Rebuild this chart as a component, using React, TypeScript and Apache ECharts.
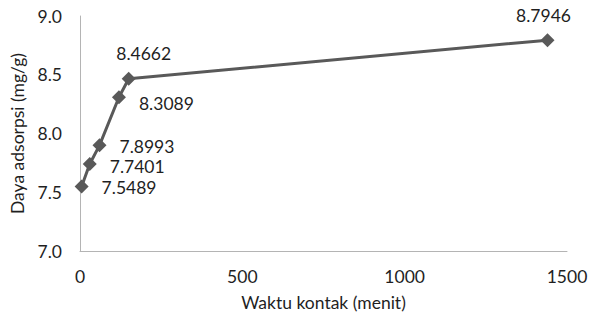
import React, { useEffect, useRef } from "react";
import * as echarts from "echarts";

const timeMinutes = [5, 30, 60, 120, 150, 1440];
const adsorption = [7.5489, 7.7401, 7.8993, 8.3089, 8.4662, 8.7946];
const xTicks = { min: 0, max: 1500, interval: 500 };
const yTicks = { min: 7, max: 9, interval: 0.5 };
const xName = "Waktu kontak (menit)";
const yName = "Daya adsorpsi (mg/g)";

// label placement per point (style only)
const labelPlacement: { position: string; offset: number[] }[] = [
  { position: "right", offset: [8, 1] },
  { position: "right", offset: [8, 2] },
  { position: "right", offset: [8, 1] },
  { position: "right", offset: [8, 6] },
  { position: "top", offset: [15, -4] },
  { position: "top", offset: [-4, -4] },
];

const FONT = "Lato";
const FS = 17.5;
const TEXT = "#1f1f1f";

export default function App() {
  const ref = useRef<HTMLDivElement>(null);
  useEffect(() => {
    if (!ref.current) return;
    const chart = echarts.init(ref.current, undefined, { renderer: "svg" });
    const data = timeMinutes.map((t, i) => ({
      value: [t, adsorption[i]],
      label: {
        position: labelPlacement[i].position as any,
        offset: labelPlacement[i].offset,
      },
    }));
    chart.setOption({
      animation: false,
      backgroundColor: "#ffffff",
      textStyle: { fontFamily: FONT },
      grid: { left: 80, right: 28, top: 16, bottom: 63, containLabel: false },
      xAxis: {
        type: "value",
        min: xTicks.min,
        max: xTicks.max,
        interval: xTicks.interval,
        name: xName,
        nameLocation: "middle",
        nameGap: 42,
        nameTextStyle: { fontFamily: FONT, fontSize: FS, color: TEXT },
        axisLine: { show: true, lineStyle: { color: "#b4b4b4", width: 1 } },
        axisTick: { show: false },
        splitLine: { show: false },
        axisLabel: {
          fontFamily: FONT,
          fontSize: FS,
          color: TEXT,
          margin: 16,
          formatter: (v: number) => String(v),
        },
      },
      yAxis: {
        type: "value",
        min: yTicks.min,
        max: yTicks.max,
        interval: yTicks.interval,
        name: yName,
        nameLocation: "middle",
        nameGap: 42,
        nameTextStyle: { fontFamily: FONT, fontSize: FS, color: TEXT },
        axisLine: { show: true, lineStyle: { color: "#b4b4b4", width: 1 } },
        axisTick: { show: false },
        splitLine: { show: false },
        axisLabel: {
          fontFamily: FONT,
          fontSize: FS,
          color: TEXT,
          margin: 18,
          formatter: (v: number) => v.toFixed(1),
        },
      },
      series: [
        {
          type: "line",
          data,
          symbol: "diamond",
          symbolSize: 14,
          lineStyle: { color: "#595959", width: 3 },
          itemStyle: { color: "#595959" },
          label: {
            show: true,
            fontFamily: FONT,
            fontSize: FS,
            color: TEXT,
            formatter: (p: any) => p.value[1].toFixed(4),
          },
        },
      ],
    });
    return () => chart.dispose();
  }, []);
  return (
    <div
      ref={ref}
      style={{ position: "absolute", left: 0, top: 0, width: 595, height: 316 }}
    />
  );
}
